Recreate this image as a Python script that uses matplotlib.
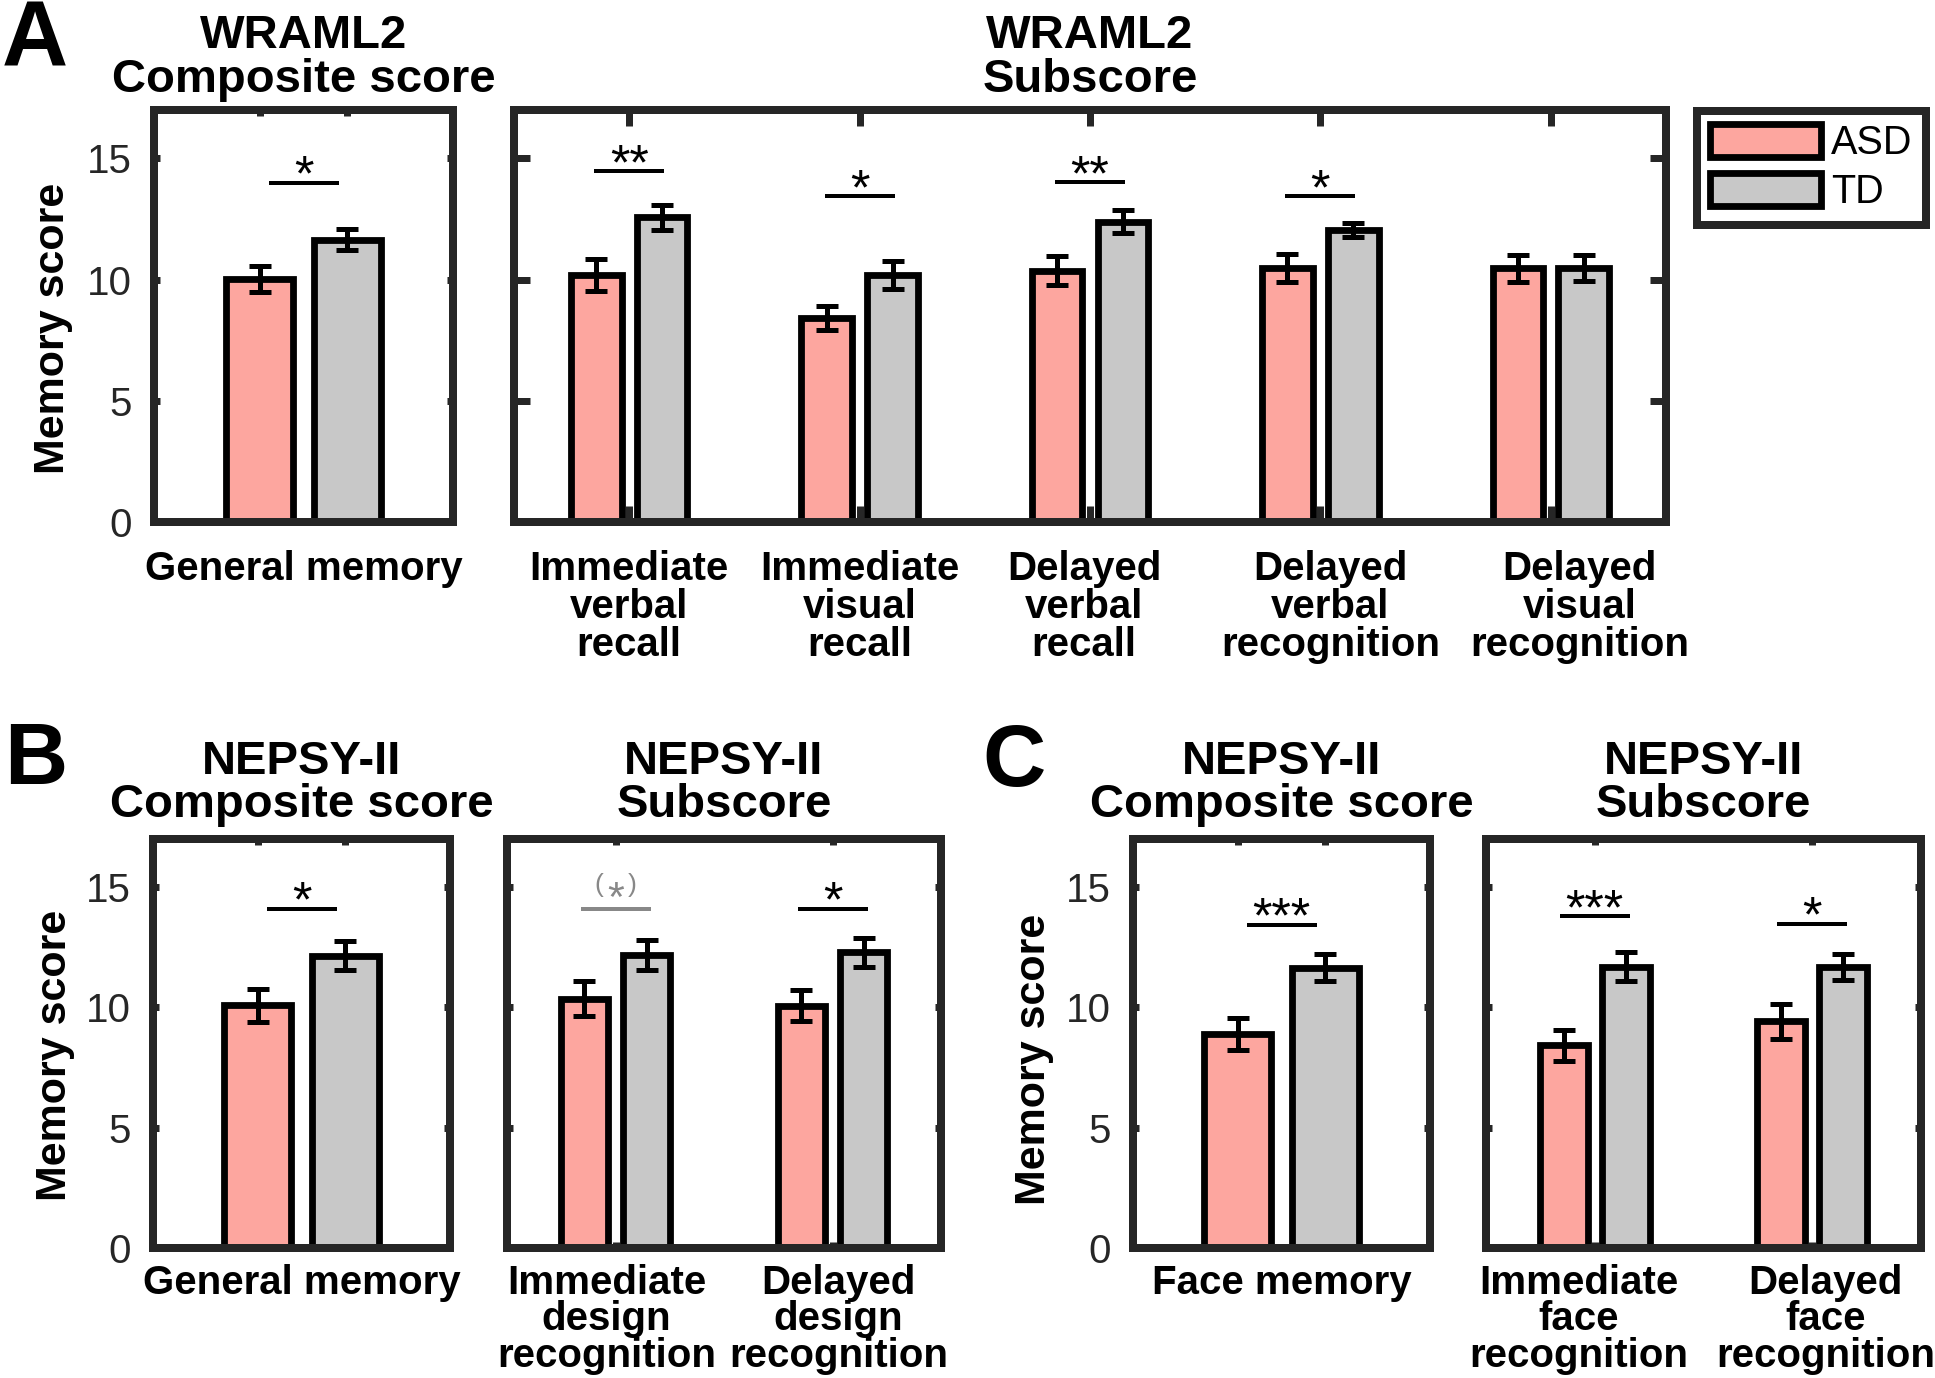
import numpy as np
import matplotlib
matplotlib.use("Agg")
import matplotlib.pyplot as plt
from matplotlib.transforms import ScaledTranslation

plt.rcParams['font.family'] = ['Liberation Sans', 'DejaVu Sans']

# ---------------- data ----------------
groups = ['ASD', 'TD']

# A: WRAML2 composite
wraml_comp_labels = ['General memory']
wraml_comp_asd = [10.03]
wraml_comp_asd_err = [0.55]
wraml_comp_td = [11.65]
wraml_comp_td_err = [0.42]
wraml_comp_sig = ['*']
wraml_comp_sig_y = [14.0]

# A: WRAML2 subscores
wraml_sub_labels = ['Immediate\nverbal\nrecall', 'Immediate\nvisual\nrecall',
                    'Delayed\nverbal\nrecall', 'Delayed\nverbal\nrecognition',
                    'Delayed\nvisual\nrecognition']
wraml_sub_asd = [10.18, 8.42, 10.37, 10.47, 10.47]
wraml_sub_asd_err = [0.66, 0.51, 0.60, 0.57, 0.56]
wraml_sub_td = [12.57, 10.18, 12.39, 12.06, 10.47]
wraml_sub_td_err = [0.51, 0.57, 0.48, 0.29, 0.53]
wraml_sub_sig = ['**', '*', '**', '*', '']
wraml_sub_sig_y = [14.48, 13.45, 14.03, 13.45, 0]

# B: NEPSY-II memory for designs
nepsy_design_comp_labels = ['General memory']
nepsy_design_comp_asd = [10.08]
nepsy_design_comp_asd_err = [0.70]
nepsy_design_comp_td = [12.15]
nepsy_design_comp_td_err = [0.60]
nepsy_design_comp_sig = ['*']
nepsy_design_comp_sig_y = [14.1]

nepsy_design_sub_labels = ['Immediate\ndesign\nrecognition', 'Delayed\ndesign\nrecognition']
nepsy_design_sub_asd = [10.37, 10.07]
nepsy_design_sub_asd_err = [0.71, 0.64]
nepsy_design_sub_td = [12.18, 12.29]
nepsy_design_sub_td_err = [0.63, 0.61]
nepsy_design_sub_sig = ['(*)', '*']
nepsy_design_sub_sig_y = [14.1, 14.1]

# C: NEPSY-II face memory
nepsy_face_comp_labels = ['Face memory']
nepsy_face_comp_asd = [8.89]
nepsy_face_comp_asd_err = [0.65]
nepsy_face_comp_td = [11.65]
nepsy_face_comp_td_err = [0.55]
nepsy_face_comp_sig = ['***']
nepsy_face_comp_sig_y = [13.44]

nepsy_face_sub_labels = ['Immediate\nface\nrecognition', 'Delayed\nface\nrecognition']
nepsy_face_sub_asd = [8.43, 9.42]
nepsy_face_sub_asd_err = [0.64, 0.74]
nepsy_face_sub_td = [11.69, 11.67]
nepsy_face_sub_td_err = [0.60, 0.55]
nepsy_face_sub_sig = ['***', '*']
nepsy_face_sub_sig_y = [13.8, 13.48]

y_ticks = [0, 5, 10, 15]

# ---------------- style ----------------
W, H = 1935, 1378
DPI = 100
PX = 72.0 / DPI            # points per pixel
C_ASD = '#FDA69F'
C_TD = '#C8C8C8'
FRAME_C = '#262626'
GRAY = '#888888'
BAR_LW = 6.8 * PX
FRAME_LW = 8 * PX
TICK_W = 7 * PX

fig = plt.figure(figsize=(W / DPI, H / DPI), dpi=DPI)
fig.patch.set_facecolor('white')


def rect(x0, y0, x1, y1):
    return [x0 / W, 1 - y1 / H, (x1 - x0) / W, (y1 - y0) / H]


def draw_panel(r, labels, asd, asd_err, td, td_err, sigs, sig_y, composite,
               label_pad_px, linesp=1.0, label_dx=None):
    ax = fig.add_axes(r)
    n = len(labels)
    x = np.arange(1, n + 1)
    off = 0.147 if composite else 0.143
    bw = 0.225 if composite else 0.22
    b1 = ax.bar(x - off, asd, bw, color=C_ASD, edgecolor='black',
                linewidth=BAR_LW, zorder=2, label=groups[0])
    b2 = ax.bar(x + off, td, bw, color=C_TD, edgecolor='black',
                linewidth=BAR_LW, zorder=2, label=groups[1])
    for xs, vals, errs in ((x - off, asd, asd_err), (x + off, td, td_err)):
        ax.errorbar(xs, vals, yerr=errs, fmt='none', ecolor='black',
                    elinewidth=5 * PX, capsize=11.5 * PX, capthick=5 * PX,
                    zorder=3)
    ax.set_xlim(0.5, n + 0.5)
    ax.set_ylim(0, 17)

    # pixel size of one x data unit -> fixed-length significance lines
    px_per_unit = r[2] * W / n
    half = 35.0 / px_per_unit
    for xi, s, sy in zip(x, sigs, sig_y):
        if not s:
            continue
        col = GRAY if s.startswith('(') else 'black'
        ax.plot([xi - half, xi + half], [sy, sy], color=col,
                lw=4 * PX, solid_capstyle='butt', zorder=3)
        if s.startswith('('):
            core = s.strip('()')
            ax.annotate('(', xy=(xi, sy), xytext=(-17 * PX, 17 * PX),
                        textcoords='offset points', ha='center',
                        va='baseline', fontsize=19, color=col)
            ax.annotate(')', xy=(xi, sy), xytext=(17 * PX, 17 * PX),
                        textcoords='offset points', ha='center',
                        va='baseline', fontsize=19, color=col)
            ax.annotate(core, xy=(xi, sy), xytext=(0, -2 * PX),
                        textcoords='offset points', ha='center',
                        va='baseline', fontsize=31, color=col)
        else:
            ax.annotate(s, xy=(xi, sy), xytext=(0, -8 * PX),
                        textcoords='offset points', ha='center',
                        va='baseline', fontsize=36, color=col)

    for sp in ax.spines.values():
        sp.set_linewidth(FRAME_LW)
        sp.set_color(FRAME_C)
        sp.set_zorder(4)

    maxdim = max(r[2] * W, r[3] * H)
    tlen = 0.0135 * maxdim * PX
    ax.set_yticks(y_ticks)
    if composite:
        ax.set_xticks([1 - off, 1 + off])
        ax.set_xticklabels(['', ''])
        ax.set_xticks([1], minor=True)
        ax.set_xticklabels(labels, minor=True, fontweight='bold',
                           fontsize=29, color='black')
        ax.tick_params(axis='x', which='minor', length=0,
                       pad=label_pad_px * PX)
        ax.set_yticklabels([str(v) for v in y_ticks])
    else:
        ax.set_xticks(x)
        ax.set_xticklabels(labels, fontweight='bold', fontsize=29,
                           color='black', linespacing=linesp)
        ax.tick_params(axis='y', labelleft=False)
    ax.tick_params(axis='both', which='major', direction='in', top=True,
                   right=True, length=tlen, width=TICK_W, color=FRAME_C,
                   labelsize=29, labelcolor=FRAME_C, pad=16)
    ax.tick_params(axis='x', which='major', pad=label_pad_px * PX)
    for t in ax.get_xticklabels():
        t.set_color('black')
        t.set_fontweight('bold')
    if label_dx is not None:
        for tk, dx in zip(ax.xaxis.get_major_ticks(), label_dx):
            tk.label1.set_transform(tk.label1.get_transform() +
                                    ScaledTranslation(dx / DPI, 0,
                                                      fig.dpi_scale_trans))
    return ax, (b1, b2)


# ---------------- panels ----------------
axA1, handles = draw_panel(rect(154, 110, 453, 522), wraml_comp_labels,
                           wraml_comp_asd, wraml_comp_asd_err, wraml_comp_td,
                           wraml_comp_td_err, wraml_comp_sig, wraml_comp_sig_y,
                           True, 28)
axA2, _ = draw_panel(rect(514, 110, 1666, 522), wraml_sub_labels,
                     wraml_sub_asd, wraml_sub_asd_err, wraml_sub_td,
                     wraml_sub_td_err, wraml_sub_sig, wraml_sub_sig_y,
                     False, 28, linesp=1.0, label_dx=[0, 0, -6, 10, 29])
axB1, _ = draw_panel(rect(153, 839, 450, 1248), nepsy_design_comp_labels,
                     nepsy_design_comp_asd, nepsy_design_comp_asd_err,
                     nepsy_design_comp_td, nepsy_design_comp_td_err,
                     nepsy_design_comp_sig, nepsy_design_comp_sig_y, True, 16)
axB2, _ = draw_panel(rect(507, 839, 941, 1248), nepsy_design_sub_labels,
                     nepsy_design_sub_asd, nepsy_design_sub_asd_err,
                     nepsy_design_sub_td, nepsy_design_sub_td_err,
                     nepsy_design_sub_sig, nepsy_design_sub_sig_y, False, 16,
                     linesp=0.95, label_dx=[-9, 6])
axC1, _ = draw_panel(rect(1133, 839, 1430, 1248), nepsy_face_comp_labels,
                     nepsy_face_comp_asd, nepsy_face_comp_asd_err,
                     nepsy_face_comp_td, nepsy_face_comp_td_err,
                     nepsy_face_comp_sig, nepsy_face_comp_sig_y, True, 16)
axC2, _ = draw_panel(rect(1486, 839, 1921, 1248), nepsy_face_sub_labels,
                     nepsy_face_sub_asd, nepsy_face_sub_asd_err,
                     nepsy_face_sub_td, nepsy_face_sub_td_err,
                     nepsy_face_sub_sig, nepsy_face_sub_sig_y, False, 16,
                     linesp=0.95, label_dx=[-16, 13])

# y labels
for ax, (lx, ly) in ((axA1, (-0.338, 0.47)), (axB1, (-0.33, 0.47)),
                     (axC1, (-0.333, 0.46))):
    ax.set_ylabel('Memory score', fontsize=31, fontweight='bold', va='center')
    ax.yaxis.set_label_coords(lx, ly)

# titles (two lines each)
titles = [
    (axA1, 'WRAML2', 'Composite score', 48, 92),
    (axA2, 'WRAML2', 'Subscore', 48, 92),
    (axB1, 'NEPSY-II', 'Composite score', 774, 817),
    (axB2, 'NEPSY-II', 'Subscore', 774, 817),
    (axC1, 'NEPSY-II', 'Composite score', 774, 817),
    (axC2, 'NEPSY-II', 'Subscore', 774, 817),
]
for ax, l1, l2, y1, y2 in titles:
    pos = ax.get_position()
    cx = pos.x0 + pos.width / 2
    fig.text(cx, 1 - y1 / H, l1, ha='center', va='baseline', fontsize=34,
             fontweight='bold')
    fig.text(cx, 1 - y2 / H, l2, ha='center', va='baseline', fontsize=34,
             fontweight='bold')

# panel letters
for letter, lx, ly, fs in (('A', 2, 66, 66), ('B', 4, 784, 63),
                           ('C', 982, 786, 63)):
    fig.text(lx / W, 1 - ly / H, letter, ha='left', va='baseline',
             fontsize=fs, fontweight='bold')

# legend
leg = fig.legend(handles=list(handles), labels=groups, loc='upper left',
                 bbox_to_anchor=(1696.5 / W, 1 - 110.5 / H),
                 bbox_transform=fig.transFigure, borderaxespad=0,
                 fontsize=28.5, handlelength=2.8, handleheight=0.89,
                 handletextpad=0.25, labelspacing=0.28, borderpad=0.35,
                 frameon=True, fancybox=False, edgecolor=FRAME_C,
                 framealpha=1)
leg.get_frame().set_linewidth(FRAME_LW)

fig.savefig('out.png', dpi=DPI, facecolor='white')
